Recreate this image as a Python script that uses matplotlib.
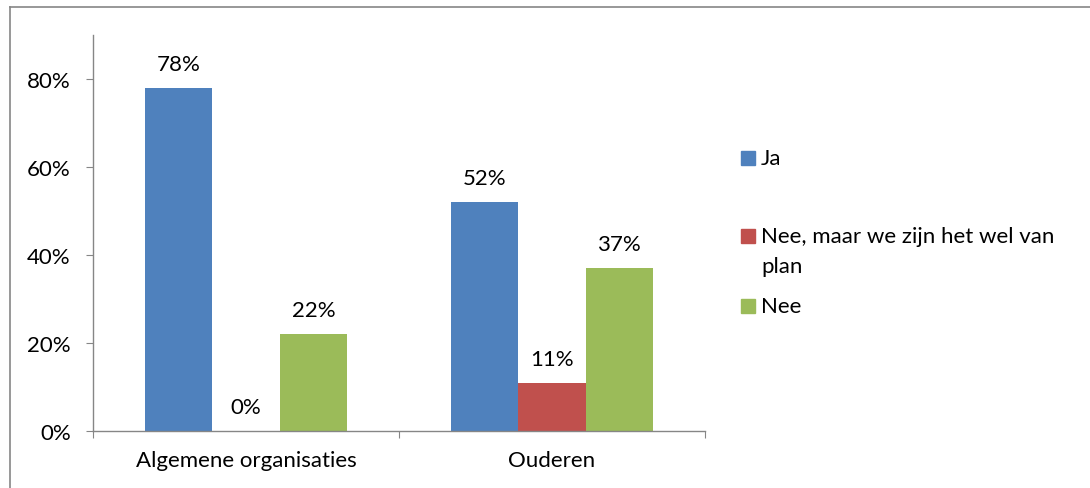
import matplotlib.pyplot as plt
from matplotlib.patches import Rectangle
from matplotlib.lines import Line2D
import numpy as np

# data
categories = ["Algemene organisaties", "Ouderen"]
series_names = ["Ja", "Nee, maar we zijn het wel van\nplan", "Nee"]
ja = [0.78, 0.52]
nee_maar = [0.00, 0.11]
nee = [0.22, 0.37]
series_values = [ja, nee_maar, nee]
colors = ["#4F81BD", "#C0504D", "#9BBB59"]

plt.rcParams['font.family'] = ['Lato', 'DejaVu Sans']
FS = 16
axis_grey = "#868686"

W, H = 1090, 489
fig = plt.figure(figsize=(W / 100, H / 100), dpi=100)
ax = fig.add_axes([93 / W, (H - 432) / H, 612 / W, 396 / H])

x = np.arange(len(categories))
width = 0.22
for i, (vals, col) in enumerate(zip(series_values, colors)):
    pos = x + (i - 1) * width
    bars = ax.bar(pos, vals, width, color=col, zorder=2)
    for b, v in zip(bars, vals):
        ax.annotate(f"{v * 100:.0f}%", (b.get_x() + b.get_width() / 2, v),
                    xytext=(0, 10), textcoords="offset points",
                    ha="center", va="bottom", fontsize=FS, color="black")

ax.set_xlim(-0.5, len(categories) - 0.5)
ax.set_ylim(0, 0.9)
ax.set_yticks([0, 0.2, 0.4, 0.6, 0.8])
ax.set_yticklabels(["0%", "20%", "40%", "60%", "80%"], fontsize=FS)

# category boundaries as ticks, names in between
ax.set_xticks(np.arange(len(categories) + 1) - 0.5)
ax.set_xticklabels([])
ax.set_xticks(x, minor=True)
ax.set_xticklabels(categories, minor=True, fontsize=FS)
ax.tick_params(axis="x", which="minor", length=0, pad=14)
ax.tick_params(axis="x", which="major", length=5, color=axis_grey, direction="out")
ax.tick_params(axis="y", length=5, color=axis_grey, direction="out", pad=11)

for s in ["top", "right"]:
    ax.spines[s].set_visible(False)
for s in ["left", "bottom"]:
    ax.spines[s].set_color(axis_grey)
    ax.spines[s].set_linewidth(1.0)

# legend drawn by hand so the wrapped label lines up like the original
leg_y = [159, 237, 307]
for name, col, yy in zip(series_names, colors, leg_y):
    fig.patches.append(Rectangle((741 / W, (H - yy - 7) / H), 14 / W, 14 / H,
                                 transform=fig.transFigure, color=col))
    for k, line in enumerate(name.split("\n")):
        fig.text(761 / W, (H - yy - 30 * k) / H, line, fontsize=FS, va="center", ha="left")

# outer frame: top and left edges only
fig.lines.append(Line2D([10 / W, 1], [(H - 8) / H, (H - 8) / H], transform=fig.transFigure,
                        color=axis_grey, linewidth=1.2))
fig.lines.append(Line2D([10 / W, 10 / W], [0, (H - 8) / H], transform=fig.transFigure,
                        color=axis_grey, linewidth=1.2))

fig.savefig("out.png", dpi=100)
